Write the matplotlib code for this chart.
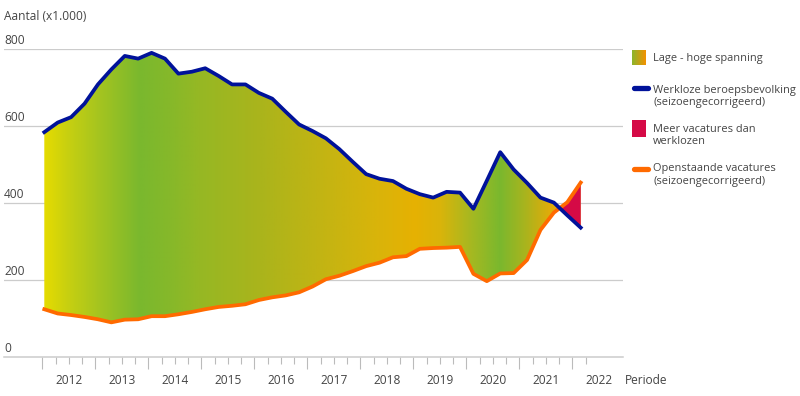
import numpy as np
import matplotlib
matplotlib.use("Agg")
import matplotlib.pyplot as plt
from matplotlib.colors import LinearSegmentedColormap, to_rgb
from matplotlib.lines import Line2D
from matplotlib.patches import Rectangle
import matplotlib.transforms as mtransforms

plt.rcParams['font.family'] = ['Open Sans', 'DejaVu Sans']

# ---- data (x1000), quarterly 2012K1 .. 2022K1 ----
periods = [f"{y}K{q}" for y in range(2012, 2023) for q in range(1, 5)][:41]
werkloos = [584, 609, 623, 658, 708, 747, 782, 775, 790, 775,
            736, 741, 750, 730, 708, 708, 686, 671, 637, 604,
            587, 568, 540, 507, 475, 463, 457, 437, 423, 414,
            429, 427, 385, 458, 532, 487, 452, 414, 401, 368,
            336]
vacatures = [124, 113, 109, 104, 98, 90, 97, 98, 106, 106,
             111, 117, 124, 130, 133, 137, 148, 155, 160, 168,
             183, 202, 211, 223, 236, 245, 259, 262, 281, 283,
             284, 286, 216, 197, 217, 218, 252, 330, 375, 402,
             453]
years = list(range(2012, 2023))
ytick_vals = [0, 200, 400, 600, 800]

# ---- layout helpers (pixel -> year) ----
PX_Y0, PX_PER_YEAR = 42.3, 53.0
def yr(px):
    return 2012 + (px - PX_Y0) / PX_PER_YEAR

x_first, x_last = yr(44.3), yr(580.7)
x = np.linspace(x_first, x_last, len(periods))
blue = np.array(werkloos, float)
orange = np.array(vacatures, float)

W, H = 800, 396
fig = plt.figure(figsize=(W / 100, H / 100), dpi=100)
ax = fig.add_axes([4 / W, 1 - 357 / H, (623 - 4) / W, (357 - 49) / H])
ax.set_xlim(yr(4), yr(623))
ax.set_ylim(0, 800)

# gridlines
for v in ytick_vals[1:]:
    ax.axhline(v, color='#cccccc', lw=0.9, zorder=0)
for s in ['top', 'right', 'left']:
    ax.spines[s].set_visible(False)
ax.spines['bottom'].set_color('#cccccc')
ax.spines['bottom'].set_linewidth(1.1)
ax.set_yticks([])

# gradient fill
stops_px = [44, 67, 100, 140, 170, 200, 260, 330, 380, 415, 440, 470, 500, 525, 550, 581]
stops_col = ['#e6dc00', '#c8d010', '#a4c420', '#7ab82e', '#86b82a', '#96b824',
             '#aab41c', '#c6b412', '#dab40a', '#e6b102', '#dab40a', '#a8b820',
             '#7ab82e', '#a8b41e', '#e0ac0a', '#f0a000']
xs_img = np.linspace(x_first, x_last, 600)
stops_x = [yr(p) for p in stops_px]
rgb = np.array([to_rgb(c) for c in stops_col])
img = np.stack([np.interp(xs_img, stops_x, rgb[:, k]) for k in range(3)], axis=-1)[None, :, :]
fb = ax.fill_between(x, orange, blue, facecolor='none', edgecolor='none')
im = ax.imshow(img, extent=[x_first, x_last, 0, 800], aspect='auto',
               interpolation='bilinear', zorder=1)
im.set_clip_path(fb.get_paths()[0], transform=ax.transData)

# pink: more vacancies than unemployed
ax.fill_between(x, blue, orange, where=orange >= blue, interpolate=True,
                facecolor='#d50a46', edgecolor='none', zorder=2)

ax.plot(x, orange, color='#ff6a00', lw=2.7, zorder=3, solid_joinstyle='round')
ax.plot(x, blue, color='#00129a', lw=2.7, zorder=4, solid_joinstyle='round')

# x ticks
ax.set_xticks(years)
ax.set_xticklabels([])
ax.set_xticks([y + q / 4 for y in range(2012, 2023) for q in range(1, 4)][:-2], minor=True)
ax.tick_params(axis='x', which='major', length=8.5, width=0.8, color='#bbbbbb')
ax.tick_params(axis='x', which='minor', length=5, width=0.8, color='#bbbbbb')

tc = '#444444'
fs = 8.6
tr = mtransforms.blended_transform_factory(ax.transData, ax.transAxes)
for y in years:
    ax.text(y + 0.5, -23 / 308, str(y), transform=tr, ha='center', va='center',
            fontsize=fs, color=tc)

# y labels above gridlines
tr_y = mtransforms.blended_transform_factory(fig.transFigure, ax.transData)
for v in ytick_vals:
    ax.text(4 / W, v, str(v), transform=mtransforms.offset_copy(tr_y, fig=fig, y=6, units='points'),
            ha='left', va='center', fontsize=fs, color=tc)

fig.text(4 / W, 1 - 17 / H, 'Aantal (x1.000)', ha='left', va='center', fontsize=fs, color=tc)
fig.text(625 / W, 1 - 380 / H, 'Periode', ha='left', va='center', fontsize=fs, color=tc)

# legend
sw = fig.add_axes([632 / W, 1 - 65 / H, 14 / W, 15 / H])
grad = np.linspace(0, 1, 50)[None, :]
sw.imshow(grad, cmap=LinearSegmentedColormap.from_list('sp', ['#8cb52c', '#f39200']),
          aspect='auto', extent=[0, 1, 0, 1])
sw.axis('off')
fig.add_artist(Rectangle((632 / W, 1 - 136.5 / H), 14 / W, 16.5 / H,
                         transform=fig.transFigure, facecolor='#d50a46', edgecolor='none'))
for yc, col in [(88, '#00129a'), (169, '#ff6a00')]:
    fig.add_artist(Line2D([634 / W, 648 / W], [1 - yc / H, 1 - yc / H], transform=fig.transFigure,
                          color=col, lw=3.8, solid_capstyle='round'))

lx = 653 / W
lfs = 7.9
for txt, yc in [('Lage - hoge spanning', 59), ('Werkloze beroepsbevolking', 90),
                ('(seizoengecorrigeerd)', 102), ('Meer vacatures dan', 129),
                ('werklozen', 142), ('Openstaande vacatures', 169),
                ('(seizoengecorrigeerd)', 182)]:
    fig.text(lx, 1 - yc / H, txt, ha='left', va='center', fontsize=lfs, color=tc)

fig.savefig('out.png', dpi=100)
